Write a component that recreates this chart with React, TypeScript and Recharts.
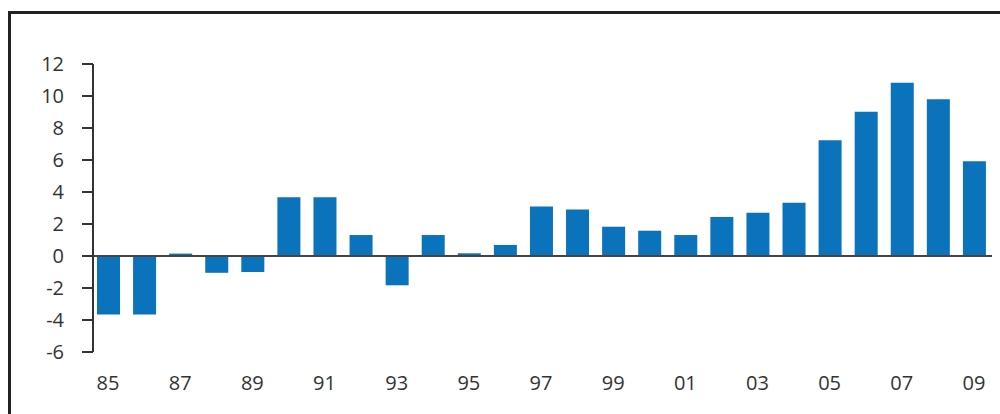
import { Bar, BarChart, ReferenceLine, XAxis, YAxis } from "recharts";

const years = [
  "85", "86", "87", "88", "89", "90", "91", "92", "93", "94", "95", "96", "97",
  "98", "99", "00", "01", "02", "03", "04", "05", "06", "07", "08", "09",
];

const values = [
  -3.65, -3.65, 0.15, -1.05, -1.0, 3.67, 3.67, 1.31, -1.83, 1.31, 0.17, 0.69, 3.1,
  2.9, 1.83, 1.58, 1.31, 2.44, 2.71, 3.33, 7.23, 9.02, 10.83, 9.8, 5.92,
];

const yTicks = [-6, -4, -2, 0, 2, 4, 6, 8, 10, 12];

const data = years.map((year, i) => ({ year, value: values[i] }));

const tickStyle = { fill: "#333333", fontSize: 20, fontFamily: "'Open Sans', sans-serif" };

export default function App() {
  return (
    <div style={{ position: "absolute", left: 0, top: 0, width: 1000, height: 414, background: "#fff" }}>
      <div
        style={{
          position: "absolute",
          left: 8,
          top: 11,
          width: 992,
          height: 403,
          borderTop: "3px solid #222",
          borderLeft: "3px solid #222",
          boxSizing: "border-box",
        }}
      />
      <BarChart
        width={1000}
        height={414}
        data={data}
        margin={{ top: 64, right: 8, left: 33, bottom: 22 }}
        barCategoryGap={0}
      >
        <XAxis
          dataKey="year"
          interval={1}
          axisLine={false}
          tickLine={false}
          tickSize={0}
          tickMargin={24}
          height={40}
          padding={{ left: -3, right: 0 }}
          tick={tickStyle}
        />
        <YAxis
          domain={[-6, 12]}
          ticks={yTicks}
          width={60}
          tickSize={11}
          tickMargin={18}
          axisLine={{ stroke: "#333", strokeWidth: 2 }}
          tickLine={{ stroke: "#333", strokeWidth: 2 }}
          tick={tickStyle}
        />
        <Bar dataKey="value" fill="#0a73bc" barSize={23} isAnimationActive={false} />
        <ReferenceLine y={0} stroke="#444" strokeWidth={2} />
      </BarChart>
    </div>
  );
}
